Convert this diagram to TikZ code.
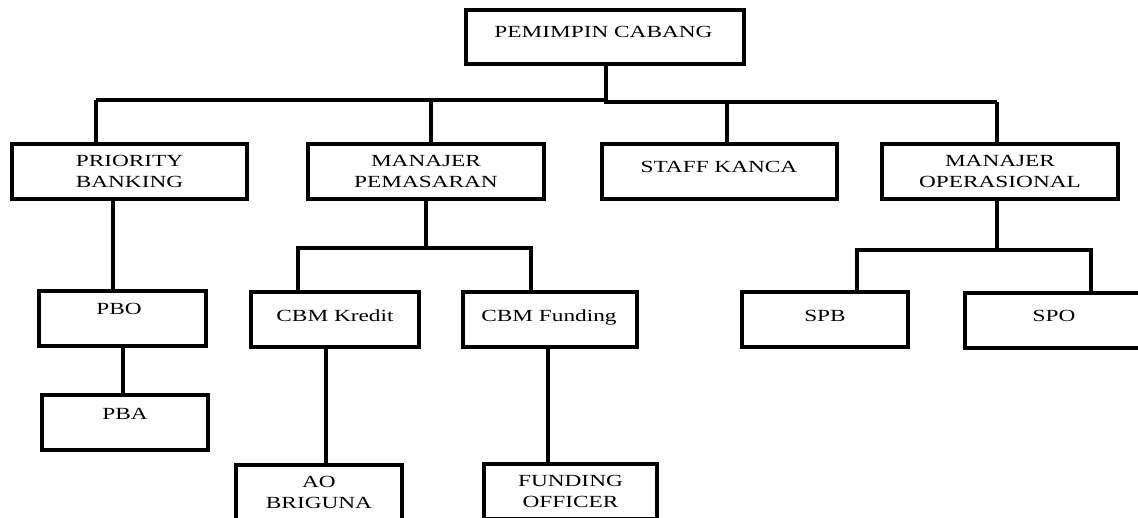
\documentclass[tikz,border=0pt]{standalone}
\usepackage{fontspec}
\setmainfont{Liberation Serif}[FakeStretch=1.37]
\begin{document}
\begin{tikzpicture}[x=1pt,y=-1pt,
  box/.style={draw=black, line width=4pt, rectangle, inner sep=0pt, fill=white},
  conn/.style={draw=black, line width=4pt},
  lbl/.style={inner sep=0pt, font=\fontsize{17}{21}\selectfont, text=black, anchor=base},
  two/.style={font=\fontsize{17}{21}\selectfont, text=black, align=center},
  w/.style={minimum width=#1, minimum height=55pt}
]
\useasboundingbox (0,0) rectangle (1138,518);
\clip (0,0) rectangle (1138,518);
\fill[white] (0,0) rectangle (1138,518);

% junction coordinates
\coordinate (hA) at (96,100);
\coordinate (hB) at (606,100);
\coordinate (hC) at (606,102);
\coordinate (hD) at (997,102);
\coordinate (xsk) at (727,102);
\coordinate (xpb) at (113,0);
\coordinate (xpbo) at (123,0);
\coordinate (mpJ) at (426,248);
\coordinate (cL) at (298,248);
\coordinate (cR) at (531,248);
\coordinate (xcbmk) at (326,0);
\coordinate (xcbmf) at (548,0);
\coordinate (moJ) at (997,250);
\coordinate (sL) at (857,250);
\coordinate (sR) at (1091,250);

% connectors (drawn first, boxes on top)
\draw[conn] (hA) -- (hB) -- (hC) -- (hD);
\draw[conn] (606,64) -- (hB);
\draw[conn] (hA) -- (96,144);
\draw[conn] (431,100) -- (431,144);
\draw[conn] (xsk) -- (727,144);
\draw[conn] (hD) -- (997,144);

% boxes
\node[box, minimum width=278pt, minimum height=54pt] (top) at (605,37) {};
\node[lbl] (topT) at (603.5,37.6) {PEMIMPIN CABANG};

\node[box, w=235pt, two] (pb) at (129.5,171.5) {PRIORITY\\BANKING};
\node[box, w=236pt, two] (mp) at (426,171.5) {MANAJER\\PEMASARAN};
\node[box, w=235pt] (sk) at (719.5,171.5) {};
\node[lbl] (skT) at (719,172.6) {STAFF KANCA};
\node[box, w=236pt, two] (mo) at (1000,171.5) {MANAJER\\OPERASIONAL};

\node[box, w=167pt] (pbo) at (122.5,318.5) {};
\node[lbl] (pboT) at (119,314.6) {PBO};
\node[box, w=166pt] (pba) at (125,422.5) {};
\node[lbl] (pbaT) at (125,419.6) {PBA};

\node[box, w=168pt] (cbmk) at (335,319.5) {};
\node[lbl] (cbmkT) at (335,321.6) {CBM Kredit};
\node[box, w=174pt] (cbmf) at (550,319.5) {};
\node[lbl] (cbmfT) at (549,321.6) {CBM Funding};

\node[box, w=166pt, two] (ao) at (319,492.5) {AO\\BRIGUNA};
\node[box, w=173pt, two] (fo) at (570.5,491.5) {FUNDING\\OFFICER};

\node[box, w=166pt] (spb) at (825,319.5) {};
\node[lbl] (spbT) at (825,321.6) {SPB};
\node[box, w=178pt] (spo) at (1054,320.5) {};
\node[lbl] (spoT) at (1054,322) {SPO};

% lower connectors
\draw[conn] (pb.south -| xpb) -- (pbo.north -| xpb);
\draw[conn] (pbo.south -| xpbo) -- (pba.north -| xpbo);
\draw[conn] (mp.south -| mpJ) -- (mpJ);
\draw[conn] (cbmk.north -| cL) -- (cL) -- (cR) -- (cbmf.north -| cR);
\draw[conn] (cbmk.south -| xcbmk) -- (ao.north -| xcbmk);
\draw[conn] (cbmf.south -| xcbmf) -- (fo.north -| xcbmf);
\draw[conn] (mo.south -| moJ) -- (moJ);
\draw[conn] (spb.north -| sL) -- (sL) -- (sR) -- (spo.north -| sR);
\end{tikzpicture}
\end{document}
